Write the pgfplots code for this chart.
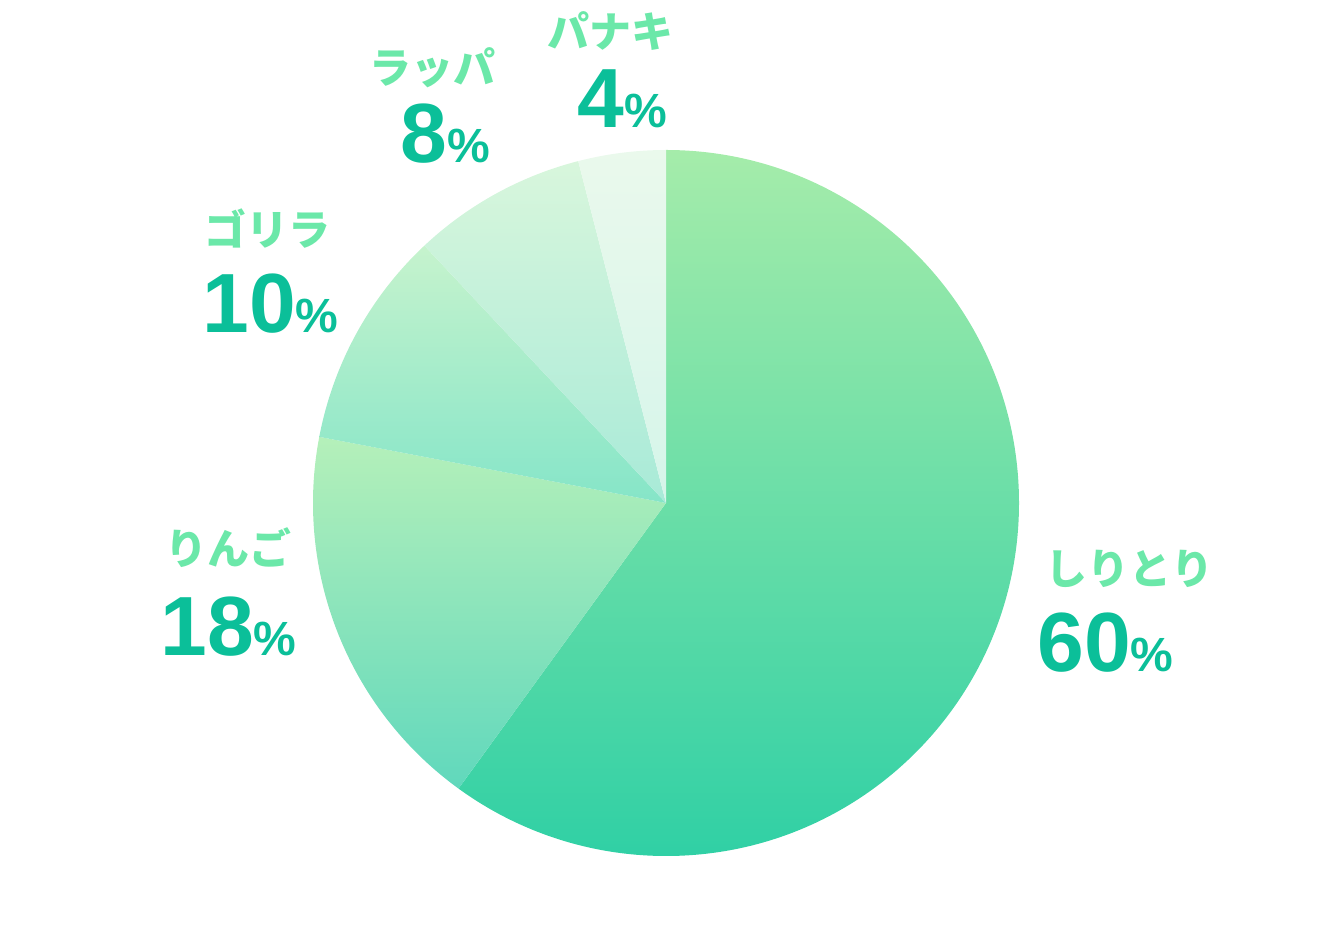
\documentclass[border=0pt]{standalone}
\usepackage{fontspec}
\setmainfont{Liberation Sans}
\newfontfamily\jp{Noto Sans CJK JP}
\usepackage{pgfplots}
\usepackage{pgfplotstable}
\pgfplotsset{compat=1.18}

\definecolor{nameC}{HTML}{6BE8A9}
\definecolor{numC}{HTML}{0BBF99}
% slice gradients (top / bottom)
\definecolor{t0}{HTML}{A5ECAA}\definecolor{b0}{HTML}{30D0A5}
\definecolor{t1}{HTML}{B5F0BA}\definecolor{b1}{HTML}{60D8BC}
\definecolor{t2}{HTML}{C6F3CD}\definecolor{b2}{HTML}{85E5C8}
\definecolor{t3}{HTML}{D8F6DC}\definecolor{b3}{HTML}{A8EAD8}
\definecolor{t4}{HTML}{EAF9EC}\definecolor{b4}{HTML}{D5F5EA}

\pgfplotstableread{
idx value
0 60
1 18
2 10
3 8
4 4
}\piedata

% start/end angles, clockwise from the top
\def\cum{0}
\pgfplotsforeachungrouped \i in {0,...,4}{%
  \pgfplotstablegetelem{\i}{value}\of\piedata
  \pgfmathsetmacro\sa{90-3.6*\cum}%
  \pgfmathsetmacro\cum{\cum+\pgfplotsretval}%
  \pgfmathsetmacro\ea{90-3.6*\cum}%
  \expandafter\xdef\csname sa\i\endcsname{\sa}%
  \expandafter\xdef\csname ea\i\endcsname{\ea}%
}

\newcommand\nm[1]{{\jp\bfseries\fontsize{21bp}{25bp}\selectfont\color{nameC}#1}}
\newcommand\pc[1]{{\color{numC}\bfseries\fontsize{42bp}{48bp}\selectfont #1{\fontsize{24bp}{28bp}\selectfont\%}}}

\begin{document}
\begin{tikzpicture}
\begin{axis}[
    width=667bp, height=468bp,
    scale only axis,
    xmin=0, xmax=1334, ymin=0, ymax=936,
    axis lines=none,
    clip=false,
]
\path (axis cs:0,0) rectangle (axis cs:1334,936);
\pgfplotsinvokeforeach{0,...,4}{
  \path[top color=t#1, bottom color=b#1]
    (axis cs:666,433)
    -- (axis cs:{666+353*cos(\csname sa#1\endcsname)},{433+353*sin(\csname sa#1\endcsname)})
    arc[start angle=\csname sa#1\endcsname, end angle=\csname ea#1\endcsname, radius=353]
    -- cycle;
}
\node[anchor=west, inner sep=0] at (axis cs:1045,367) {\nm{しりとり}};
\node[anchor=base west, inner sep=0] at (axis cs:1037,264) {\pc{60}};
\node[anchor=west, inner sep=0] at (axis cs:165,388) {\nm{りんご}};
\node[anchor=base west, inner sep=0] at (axis cs:160,280) {\pc{18}};
\node[anchor=west, inner sep=0] at (axis cs:204,707) {\nm{ゴリラ}};
\node[anchor=base west, inner sep=0] at (axis cs:202,603) {\pc{10}};
\node[anchor=west, inner sep=0] at (axis cs:369,868) {\nm{ラッパ}};
\node[anchor=base west, inner sep=0] at (axis cs:400,773) {\pc{8}};
\node[anchor=west, inner sep=0] at (axis cs:547,905) {\nm{パナキ}};
\node[anchor=base west, inner sep=0] at (axis cs:577,808) {\pc{4}};
\end{axis}
\end{tikzpicture}
\end{document}
